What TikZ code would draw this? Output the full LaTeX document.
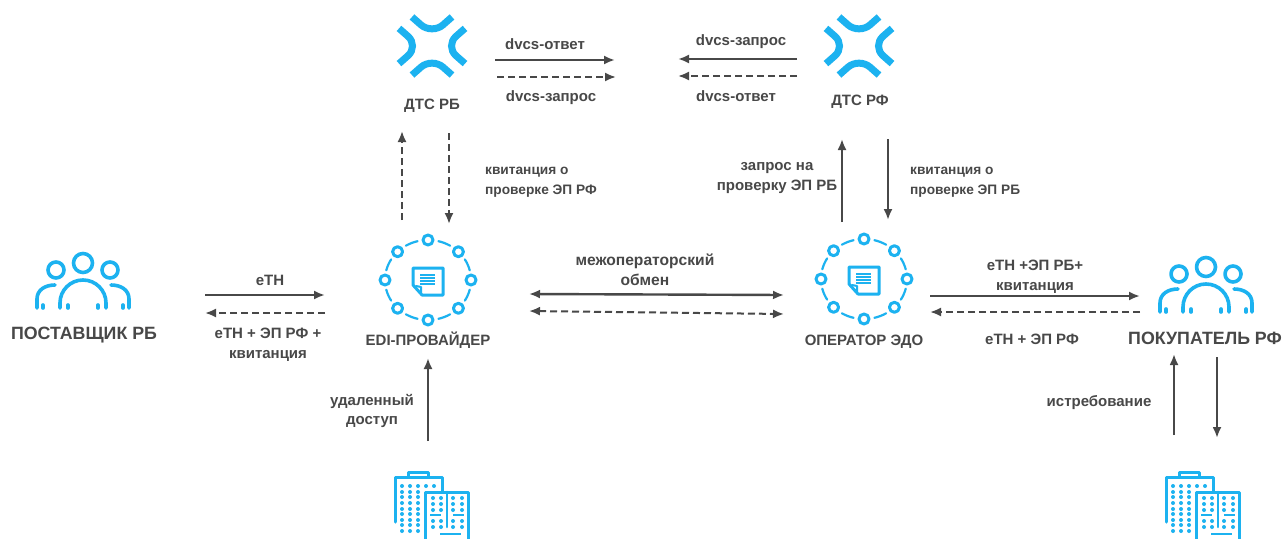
\documentclass[tikz,border=0pt]{standalone}
\usepackage{fontspec}
\setmainfont{Liberation Sans}[BoldFont={Liberation Sans Bold}]
\usepackage{tikz}
\usetikzlibrary{arrows.meta,positioning}
\definecolor{iconblue}{HTML}{1CB2F0}
\definecolor{textgray}{HTML}{484848}
\tikzset{
	Icon/.style = {draw=iconblue, line width=3.6pt, line cap=round, line join=round},
	users/.pic = {
		\draw [Icon] (0,-17) circle (9.5);
		\draw [Icon] (-27,-10) circle (8);
		\draw [Icon] (27,-10) circle (8);
		\draw [Icon] (-23,28) -- (-23,23) arc [start angle=180, end angle=360, radius=23] -- (23,28);
		\draw [Icon] (-46,28) -- (-46,19) .. controls (-46,10) and (-38,5) .. (-28,5);
		\draw [Icon] (46,28) -- (46,19) .. controls (46,10) and (38,5) .. (28,5);
		\foreach \x in {-40,-15,15,40}
			\draw [Icon] (\x,25) -- (\x,28);
	},
	dts/.pic = {
		\begin{scope}[yscale=.88]
			\foreach \a in {0,90,180,270}
				\draw [draw=iconblue, line width=7pt, rotate=\a] (-20,-33) -- (-11,-24) .. controls (-5,-18) and (5,-18) .. (11,-24) -- (20,-33);
		\end{scope}
	},
	ring/.pic = {
		\foreach \a in {0,45,...,315} {
			\draw [Icon, line width=3pt] (\a:43 and 40) circle (5);
			\draw [Icon, line width=2.2pt] (\a+14:43 and 40) arc [start angle=\a+14, end angle=\a+31, x radius=43, y radius=40];
		}
		\draw [Icon, line width=3pt] (-15,-12) -- (15,-12) -- (15,15) -- (-6,15) -- (-15,5) -- cycle;
		\draw [Icon, line width=2pt] (-12,6) -- (-7,7) -- (-7,14);
		\foreach \y in {-5,-2,1,4}
			\draw [draw=iconblue, line width=1.2pt] (-8,\y) -- (7,\y);
	},
	tower/.pic = {
		\draw [Icon, line width=3pt] (2,50) -- (2,5) -- (49,5) -- (49,20);
		\draw [Icon, line width=3pt] (15,5) -- (15,0) -- (35,0) -- (35,5);
		\draw [Icon, line width=3pt] (32,70) -- (32,20) -- (75,20) -- (75,70);
		\draw [Icon, line width=2.6pt] (54,20) -- (54,55);
		\foreach \y in {14,20,25,31,37,42,48,53,59}
			\foreach \x in {9,17,25}
				\fill [iconblue] (\x,\y) circle (2);
		\foreach \x in {33,41}
			\fill [iconblue] (\x,14) circle (2);
		\foreach \y in {26,32,38,49,55}
			\foreach \x in {40,48,60,69}
				\fill [iconblue] (\x,\y) circle (2);
		\draw [draw=iconblue, line width=2.6pt] (37,43) -- (48,43);
		\draw [draw=iconblue, line width=2.6pt] (60,43) -- (71,43);
		\draw [draw=iconblue, line width=2.6pt] (47,62) -- (68,62);
	}
}
\begin{document}
\begin{tikzpicture}[x=1pt, y=-1pt]
	\tikzstyle{Caption} = [text=textgray, font=\bfseries\fontsize{17.8}{21}\selectfont, inner sep=0pt]
	\tikzstyle{Small} = [font=\bfseries\fontsize{15}{18}\selectfont]
	\tikzstyle{Label} = [text=textgray, font=\bfseries\fontsize{15}{19.5}\selectfont, inner sep=0pt, align=center]
	\tikzstyle{Receipt} = [Label, font=\bfseries\fontsize{13.7}{19.5}\selectfont, anchor=west, align=left]
	\tikzstyle{Solid} = [draw=textgray, line width=2.4pt, -{Latex[length=11pt,width=9pt]}]
	\tikzstyle{Dash} = [Solid, line width=2pt, dash pattern=on 7pt off 4pt]

	\clip (0,0) rectangle (1284,538);
	\fill [white] (0,0) rectangle (1284,538);

	\pic at (83,280) {users};
	\pic at (1206,284) {users};
	\pic at (432,46) {dts};
	\pic at (859,46) {dts};
	\pic at (428,280) {ring};
	\pic at (864,279) {ring};
	\pic at (393,472) {tower};
	\pic at (1164,472) {tower};

	\node (supplier) at (84,335) [Caption] {ПОСТАВЩИК РБ};
	\node (buyer) at (1205,338) [Caption] {ПОКУПАТЕЛЬ РФ};
	\node (edi) at (428,340) [Caption, Small] {EDI-ПРОВАЙДЕР};
	\node (oper) at (864,342) [Caption, Small] {ОПЕРАТОР ЭДО};
	\node (dtsb) at (432,106) [Caption, Small] {ДТС РБ};
	\node (dtsf) at (860,102) [Caption, Small] {ДТС РФ};

	\node (l1) at (545,44) [Label] {dvcs-ответ};
	\node (l2) at (551,98) [Label] {dvcs-запрос};
	\node (l3) at (741,42) [Label] {dvcs-запрос};
	\node (l4) at (736,96) [Label] {dvcs-ответ};
	\node (l5) at (485,182) [Receipt] {квитанция о\\проверке ЭП РФ};
	\node (l6) at (777,178) [Label] {запрос на\\проверку ЭП РБ};
	\node (l7) at (910,182) [Receipt] {квитанция о\\проверке ЭП РБ};
	\node (l8) at (270,280) [Label] {еТН};
	\node (l9) at (268,345) [Label] {еТН + ЭП РФ +\\квитанция};
	\node (l10) at (645,270) [Label, font=\bfseries\fontsize{15.6}{20.5}\selectfont] {межоператорский\\обмен};
	\node (l11) at (1035,277) [Label] {еТН +ЭП РБ+\\квитанция};
	\node (l12) at (1032,339) [Label] {еТН + ЭП РФ};
	\node (l13) at (372,411) [Label] {удаленный\\доступ};
	\node (l14) at (1099,403) [Label] {истребование};

	\coordinate (a1) at (495,60);
	\coordinate (a2) at (615,60);
	\coordinate (b1) at (497,77);
	\coordinate (b2) at (616,77);
	\coordinate (c1) at (797,59);
	\coordinate (c2) at (678,59);
	\coordinate (d1) at (797,76);
	\coordinate (d2) at (678,76);
	\coordinate (e1) at (402,220);
	\coordinate (e2) at (402,131);
	\coordinate (f1) at (449,133);
	\coordinate (f2) at (449,224);
	\coordinate (g1) at (842,222);
	\coordinate (g2) at (842,139);
	\coordinate (h1) at (888,139);
	\coordinate (h2) at (888,220);
	\coordinate (i1) at (205,295);
	\coordinate (i2) at (325,295);
	\coordinate (j1) at (325,313);
	\coordinate (j2) at (205,313);
	\coordinate (k1) at (529,294);
	\coordinate (k2) at (784,295);
	\coordinate (m1) at (529,311);
	\coordinate (m2) at (784,314);
	\coordinate (n1) at (930,296);
	\coordinate (n2) at (1140,296);
	\coordinate (o1) at (1140,312);
	\coordinate (o2) at (930,312);
	\coordinate (p1) at (428,441);
	\coordinate (p2) at (428,358);
	\coordinate (q1) at (1174,435);
	\coordinate (q2) at (1174,354);
	\coordinate (r1) at (1217,357);
	\coordinate (r2) at (1217,438);

	\draw [Solid] (a1) to (a2);
	\draw [Dash] (b1) to (b2);
	\draw [Solid] (c1) to (c2);
	\draw [Dash] (d1) to (d2);
	\draw [Dash] (e1) to (e2);
	\draw [Dash] (f1) to (f2);
	\draw [Solid] (g1) to (g2);
	\draw [Solid] (h1) to (h2);
	\draw [Solid] (i1) to (i2);
	\draw [Dash] (j1) to (j2);
	\draw [Solid, {Latex[length=11pt,width=9pt]}-{Latex[length=11pt,width=9pt]}] (k1) to (k2);
	\draw [Dash, {Latex[length=11pt,width=9pt]}-{Latex[length=11pt,width=9pt]}] (m1) to (m2);
	\draw [Solid] (n1) to (n2);
	\draw [Dash] (o1) to (o2);
	\draw [Solid] (p1) to (p2);
	\draw [Solid] (q1) to (q2);
	\draw [Solid] (r1) to (r2);
\end{tikzpicture}
\end{document}
